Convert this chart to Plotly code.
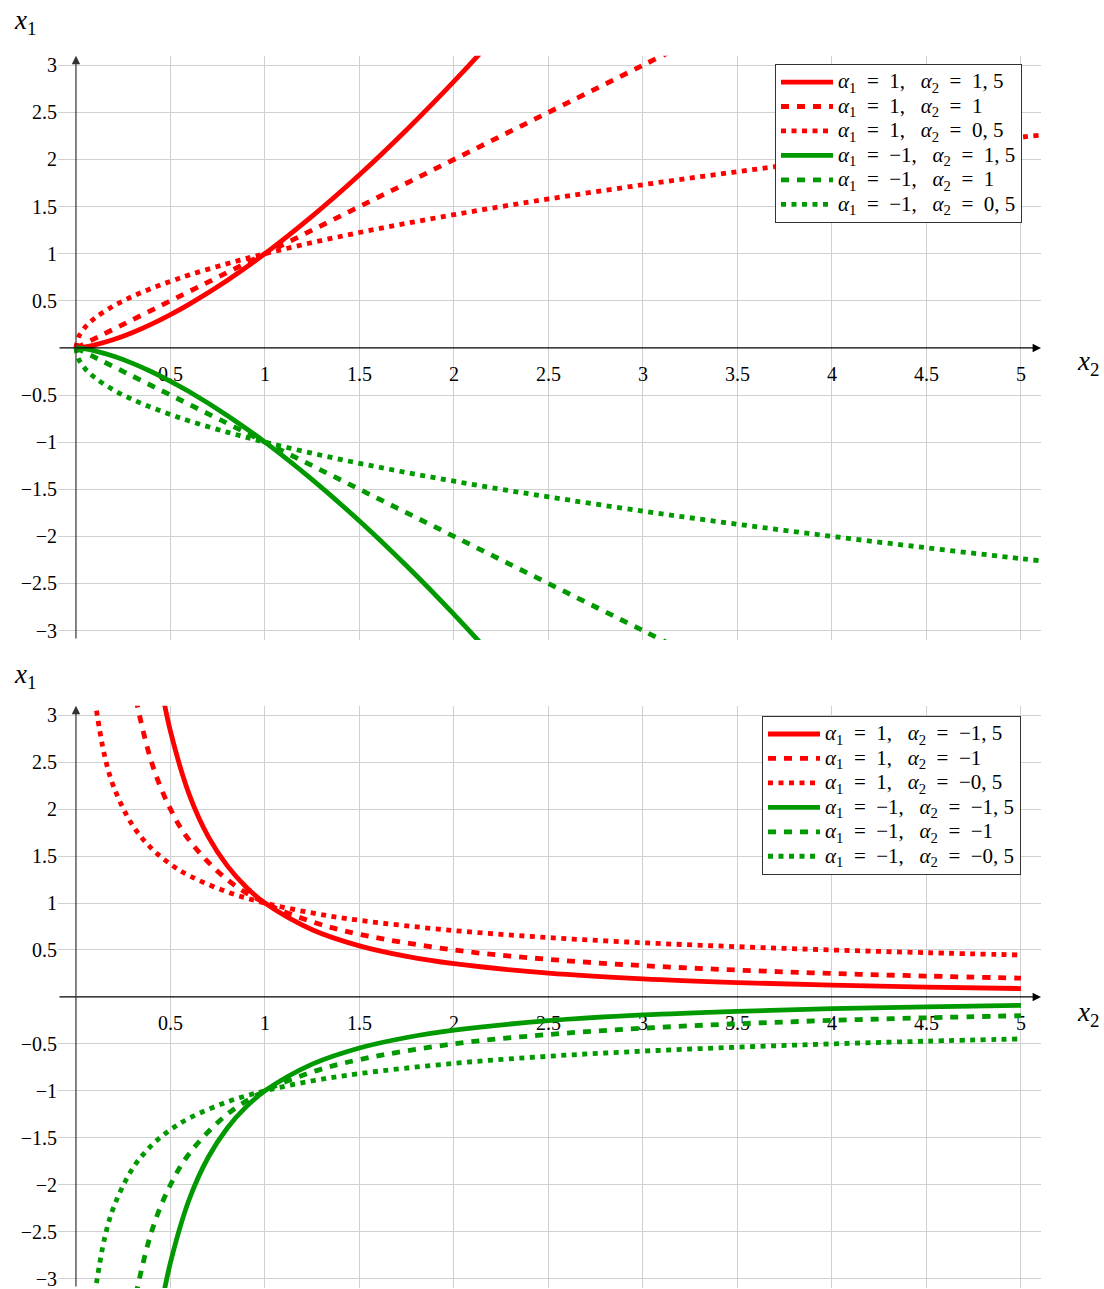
import plotly.graph_objects as go

# ---------------- data ----------------
# top panel: x1 = a1 * x2^a2 with a2 > 0
top_x_p15 = [0, 0.05, 0.1, 0.2, 0.3, 0.4, 0.5, 0.6, 0.8, 1, 1.25, 1.5, 1.75, 2, 2.25, 2.5]
top_y_p15 = [0, 0.011, 0.032, 0.089, 0.164, 0.253, 0.354, 0.465, 0.716, 1, 1.398, 1.837, 2.315, 2.828, 3.375, 3.953]

top_x_p10 = [0, 1, 2, 3, 3.5]
top_y_p10 = [0, 1, 2, 3, 3.5]

top_x_p05 = [0, 0.01, 0.02, 0.05, 0.1, 0.2, 0.3, 0.4, 0.5, 0.6, 0.8, 1, 1.25, 1.5, 1.75, 2, 2.25, 2.5, 3, 3.5, 4, 4.5, 5, 5.1]
top_y_p05 = [0, 0.1, 0.141, 0.224, 0.316, 0.447, 0.548, 0.632, 0.707, 0.775, 0.894, 1, 1.118, 1.225, 1.323, 1.414, 1.5, 1.581, 1.732, 1.871, 2, 2.121, 2.236, 2.258]

top_y_m15 = [-v for v in top_y_p15]
top_y_m10 = [-v for v in top_y_p10]
top_y_m05 = [-v for v in top_y_p05]

# bottom panel: x1 = a1 * x2^a2 with a2 < 0
bot_x_p15 = [0.45, 0.5, 0.6, 0.7, 0.8, 0.9, 1, 1.25, 1.5, 1.75, 2, 2.5, 3, 3.5, 4, 4.5, 5]
bot_y_p15 = [3.313, 2.828, 2.152, 1.707, 1.398, 1.171, 1, 0.716, 0.544, 0.432, 0.354, 0.253, 0.192, 0.153, 0.125, 0.105, 0.089]

bot_x_p10 = [0.3, 0.4, 0.5, 0.6, 0.8, 1, 1.25, 1.5, 2, 2.5, 3, 3.5, 4, 4.5, 5]
bot_y_p10 = [3.333, 2.5, 2, 1.667, 1.25, 1, 0.8, 0.667, 0.5, 0.4, 0.333, 0.286, 0.25, 0.222, 0.2]

bot_x_p05 = [0.1, 0.15, 0.2, 0.3, 0.4, 0.5, 0.6, 0.8, 1, 1.25, 1.5, 2, 2.5, 3, 3.5, 4, 4.5, 5]
bot_y_p05 = [3.162, 2.582, 2.236, 1.826, 1.581, 1.414, 1.291, 1.118, 1, 0.894, 0.816, 0.707, 0.632, 0.577, 0.535, 0.5, 0.471, 0.447]

bot_y_m15 = [-v for v in bot_y_p15]
bot_y_m10 = [-v for v in bot_y_p10]
bot_y_m05 = [-v for v in bot_y_p05]

x_tick_vals = [0.5, 1, 1.5, 2, 2.5, 3, 3.5, 4, 4.5, 5]
x_tick_text = ["0.5", "1", "1.5", "2", "2.5", "3", "3.5", "4", "4.5", "5"]
y_tick_vals = [3, 2.5, 2, 1.5, 1, 0.5, -0.5, -1, -1.5, -2, -2.5, -3]
y_tick_text = ["3", "2.5", "2", "1.5", "1", "0.5", "−0.5", "−1", "−1.5", "−2", "−2.5", "−3"]

top_a1 = ["1", "1", "1", "−1", "−1", "−1"]
top_a2 = ["1, 5", "1", "0, 5", "1, 5", "1", "0, 5"]
bot_a1 = ["1", "1", "1", "−1", "−1", "−1"]
bot_a2 = ["−1, 5", "−1", "−0, 5", "−1, 5", "−1", "−0, 5"]

S = "\u2002"  # wide math spacing around '='


def legend_label(a1, a2):
    return (f'<span style="font-size:21px"><i>α</i><sub>1</sub>{S}={S}{a1}, {S}'
            f'<i>α</i><sub>2</sub>{S}={S}{a2}</span>')


top_labels = [legend_label(a, b) for a, b in zip(top_a1, top_a2)]
bot_labels = [legend_label(a, b) for a, b in zip(bot_a1, bot_a2)]

# ---------------- styles ----------------
RED = "#ff0000"
GREEN = "#009900"
LW = 4.8
DASH = "8px,8px"
DOT = "5px,5.5px"
FONT = "Liberation Serif"

fig = go.Figure()

top_series = [
    (top_x_p15, top_y_p15, RED, "solid"),
    (top_x_p10, top_y_p10, RED, DASH),
    (top_x_p05, top_y_p05, RED, DOT),
    (top_x_p15, top_y_m15, GREEN, "solid"),
    (top_x_p10, top_y_m10, GREEN, DASH),
    (top_x_p05, top_y_m05, GREEN, DOT),
]
for (xs, ys, c, d), lab in zip(top_series, top_labels):
    fig.add_trace(go.Scatter(x=xs, y=ys, mode="lines", name=lab,
                             line=dict(color=c, width=LW, dash=d, shape="spline", smoothing=1),
                             xaxis="x", yaxis="y", legend="legend"))

bot_series = [
    (bot_x_p15, bot_y_p15, RED, "solid"),
    (bot_x_p10, bot_y_p10, RED, DASH),
    (bot_x_p05, bot_y_p05, RED, DOT),
    (bot_x_p15, bot_y_m15, GREEN, "solid"),
    (bot_x_p10, bot_y_m10, GREEN, DASH),
    (bot_x_p05, bot_y_m05, GREEN, DOT),
]
for (xs, ys, c, d), lab in zip(bot_series, bot_labels):
    fig.add_trace(go.Scatter(x=xs, y=ys, mode="lines", name=lab,
                             line=dict(color=c, width=LW, dash=d, shape="spline", smoothing=1),
                             xaxis="x2", yaxis="y2", legend="legend2"))

W, H = 1104, 1300   # page is cropped at 1289 like the reference
XR = [-0.095, 5.106]
TOP_YR = [-3.1, 3.1]
BOT_YR = [-3.1, 3.1]
GRID = "#d0d0d0"
tickfont = dict(family=FONT, size=20, color="#000")

xcommon = dict(range=XR, domain=[0, 1], tickvals=x_tick_vals, ticktext=x_tick_text,
               showgrid=True, gridcolor=GRID, gridwidth=1, zeroline=False, showline=False,
               ticks="", ticklabelstandoff=12, tickfont=tickfont, anchor="free",
               layer="below traces")
ycommon = dict(tickvals=y_tick_vals, ticktext=y_tick_text, showgrid=True, gridcolor=GRID,
               gridwidth=1, zeroline=False, showline=False, ticks="", tickfont=tickfont)

legfont = dict(family=FONT, size=16.5, color="#000")
fig.update_layout(
    width=W, height=H,
    margin=dict(l=58, r=63, t=0, b=0),
    paper_bgcolor="white", plot_bgcolor="white",
    showlegend=True,
    xaxis=dict(**xcommon, position=1 - 347 / H),
    yaxis=dict(**ycommon, range=TOP_YR, domain=[1 - 640 / H, 1 - 54 / H], anchor="x"),
    xaxis2=dict(**xcommon, position=1 - 998 / H),
    yaxis2=dict(**ycommon, range=BOT_YR, domain=[1 - 1290 / H, 1 - 706 / H], anchor="x2"),
    legend=dict(x=(1022 - 58) / 983, y=1 - 62 / H, xanchor="right", yanchor="top",
                bgcolor="white", bordercolor="#333", borderwidth=1,
                font=legfont, tracegroupgap=0, itemwidth=52),
    legend2=dict(x=(1021 - 58) / 983, y=1 - 716 / H, xanchor="right", yanchor="top",
                 bgcolor="white", bordercolor="#333", borderwidth=1,
                 font=legfont, tracegroupgap=0, itemwidth=52),
    hovermode=False,
)

# axis lines with arrows
ann = []
for xa, ya, yr in (("x", "y", TOP_YR), ("x2", "y2", BOT_YR)):
    ann.append(dict(x=XR[1], y=0, ax=XR[0], ay=0, xref=xa, yref=ya, axref=xa, ayref=ya,
                    text="", showarrow=True, arrowhead=2, arrowsize=1.4, arrowwidth=1.2,
                    arrowcolor="#000"))
    ann.append(dict(x=0, y=yr[1], ax=0, ay=yr[0], xref=xa, yref=ya, axref=xa, ayref=ya,
                    text="", showarrow=True, arrowhead=2, arrowsize=1.4, arrowwidth=1.2,
                    arrowcolor="#333"))

labfont = dict(family=FONT, size=27, color="#000")
for (px, py) in ((25, 20), (25, 676)):
    ann.append(dict(x=(px - 58) / 983, y=1 - py / H, xref="paper", yref="paper",
                    text="<i>x</i><sub>1</sub>", showarrow=False, font=labfont,
                    xanchor="center", yanchor="middle"))
for (px, py) in ((1088, 362), (1088, 1015)):
    ann.append(dict(x=(px - 58) / 983, y=1 - py / H, xref="paper", yref="paper",
                    text="<i>x</i><sub>2</sub>", showarrow=False, font=labfont,
                    xanchor="center", yanchor="middle"))
fig.update_layout(annotations=ann)

fig.write_html("out.html", config={"displayModeBar": False},
               post_script="document.body.style.margin='0';document.body.style.overflow='hidden';")
